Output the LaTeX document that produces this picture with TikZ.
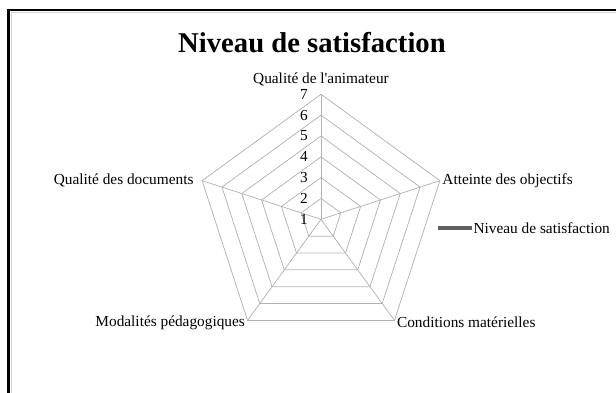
\documentclass[tikz,border=0pt]{standalone}
\usepackage{fontspec}
\setmainfont{Liberation Serif}
\usetikzlibrary{calc}

\tikzset{
	gridline/.style={gray!60, line width=0.55pt},
	axislabel/.style={font=\fontsize{11.5}{13}\selectfont, inner sep=1pt},
	ticklabel/.style={font=\fontsize{11.5}{13}\selectfont, inner sep=0pt, anchor=east},
}

\begin{document}
\begin{tikzpicture}[x=0.75pt,y=0.75pt]
		\useasboundingbox (-321,-172.7) rectangle (295,219.3);
		
		% frame (cut at the right and bottom)
		\draw[line width=1.9pt] (-312.5,-190) |- (310,209.3);
		\draw[gray!35, line width=0.8pt] (-309.6,-190) |- (310,206.6);
		
		% title
		\node[font=\fontsize{21.5}{24}\selectfont\bfseries] (title) at (-9,177) {Niveau de satisfaction};
		
		% rings 2..7
		\coordinate (c) at (0,0);
		\foreach \k in {1,...,6}
		\draw[gridline] (90:\k*20.83) -- (18:\k*20.83) -- (-54:\k*20.83)
		-- (-126:\k*20.83) -- (162:\k*20.83) -- cycle;
		
		% spokes
		\foreach \a/\n in {90/anim,18/obj,-54/cond,-126/moda,162/docs}{
			\coordinate (\n) at (\a:125);
			\draw[gridline] (c) -- (\n);
		}
		
		% scale
		\foreach \k in {1,...,7}
		\node[ticklabel] (t\k) at (-13,{(\k-1)*20.83}) {\k};
		
		% axis names
		\node[axislabel, anchor=south] (lanim) at ($(anim)+(0,7)$) {Qualité de l\textquotesingle animateur};
		\node[axislabel, anchor=west] (lobj) at ($(obj)+(1,0)$) {Atteinte des objectifs};
		\node[axislabel, anchor=west] (lcond) at ($(cond)+(1,-2)$) {Conditions matérielles};
		\node[axislabel, anchor=east] (lmoda) at ($(moda)+(-1,-2)$) {Modalités pédagogiques};
		\node[axislabel, anchor=east] (ldocs) at ($(docs)+(-7,0)$) {Qualité des documents};
		
		% legend
		\coordinate (lg) at (117,-9);
		\node[axislabel, anchor=west] (lgtext) at (151,-9) {Niveau de satisfaction};
		\draw[gray!75!black, line width=3pt] (lg) -- (lgtext.west);
		
	\end{tikzpicture}
\end{document}
